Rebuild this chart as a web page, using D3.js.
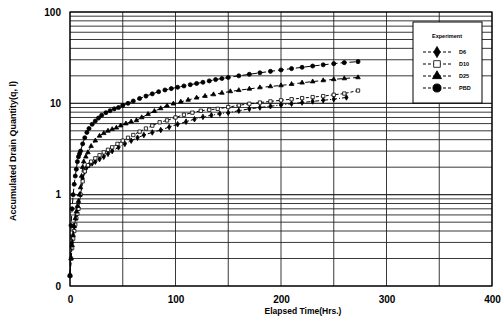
<!DOCTYPE html>
<html>
<head>
<meta charset="utf-8">
<script src="https://cdn.jsdelivr.net/npm/d3@7"></script>
<style>
  body {margin: 0; background: #fff;}
  svg {font-family: "Liberation Sans", Arial, sans-serif; font-weight: bold;}
</style>
</head>
<body>
<div id="chart"></div>
<script>
// data
const xTicks = [0, 100, 200, 300, 400];
const yTicks = [0.1, 1, 10, 100];
const yTickLabels = ['0', '1', '10', '100'];

const pbdT = [0,1,2,3,4,5,6,7,8,9,10,12,14,16,18,21,24,27,30,34,38,42,46,50,55,60,66,72,78,84,90,96,102,108,114,120,126,132,138,144,150,160,170,180,190,200,210,220,230,240,250,260,273];
const pbdQ = [0.13,0.46,0.7,1.0,1.3,1.6,1.9,2.3,2.6,2.8,3.0,3.6,4.2,4.8,5.3,5.9,6.4,6.9,7.4,7.9,8.3,8.7,9.0,9.5,10.0,10.6,11.3,12.0,12.7,13.4,14.0,14.5,15.0,15.5,16.0,16.5,17.0,17.6,18.2,18.7,19.2,20,20.8,21.6,22.4,23.2,24,24.8,25.6,26.4,27.2,27.9,28.6];

const d25T = [0,1,2,3,4,5,6,7,8,9,10,11,12,13,15,17,20,24,28,32,36,40,44,48,53,58,63,68,74,80,86,92,98,105,112,120,128,136,144,152,160,170,180,190,200,210,220,230,240,250,260,273];
const d25Q = [0.13,0.2,0.28,0.36,0.45,0.55,0.65,0.75,0.85,1.0,1.2,1.6,2.0,2.3,2.6,2.9,3.4,3.9,4.4,4.7,5.0,5.2,5.4,5.7,6.0,6.3,6.5,7.0,7.6,8.2,8.8,9.4,9.9,10.4,10.9,11.5,12.0,12.5,13.0,13.5,13.9,14.4,14.9,15.3,15.7,16.2,16.8,17.3,17.8,18.3,18.7,19.2];

const d10T = [0,1,2,3,4,5,6,7,8,10,12,14,17,20,24,28,32,36,40,45,50,55,60,66,72,78,85,92,100,108,116,124,132,140,150,160,170,180,190,200,210,220,230,240,250,260,273];
const d10Q = [0.13,0.2,0.26,0.33,0.4,0.47,0.55,0.62,0.7,1.0,1.4,1.8,2.1,2.3,2.5,2.7,2.9,3.1,3.3,3.6,3.9,4.2,4.5,4.9,5.3,5.7,6.2,6.5,7.0,7.5,7.9,8.3,8.5,8.7,9.1,9.5,9.9,10.2,10.5,10.8,11.1,11.4,11.7,12.0,12.4,12.8,13.8];

const d6T = [0,2,4,6,8,10,12,14,16,18,21,24,28,32,36,40,46,52,58,64,70,78,86,94,102,110,118,126,134,142,150,160,170,180,190,200,210,220,230,240,250,262];
const d6Q = [0.13,0.3,0.45,0.6,0.72,1.0,1.5,1.8,2.0,2.1,2.2,2.3,2.45,2.6,2.8,3.0,3.3,3.6,3.9,4.2,4.5,4.8,5.1,5.5,5.9,6.3,6.7,7.1,7.4,7.7,7.9,8.3,8.7,9.0,9.3,9.6,9.9,10.2,10.5,10.8,11.1,11.6];

const seriesNames = ['D6', 'D10', 'D25', 'PBD'];

const series = [
  {name: 'D6',  t: d6T,  q: d6Q,  symbol: d3.symbolDiamond,  size: 9,  fill: '#000', dash: '4,2,1,2'},
  {name: 'D10', t: d10T, q: d10Q, symbol: d3.symbolSquare,   size: 11, fill: '#fff', dash: '3,2'},
  {name: 'D25', t: d25T, q: d25Q, symbol: d3.symbolTriangle, size: 9,  fill: '#000', dash: '5,3'},
  {name: 'PBD', t: pbdT, q: pbdQ, symbol: d3.symbolCircle,   size: 13, fill: '#000', dash: '6,3'}
];

const margin = {top: 12, right: 10, bottom: 34, left: 70};
const W = 502, H = 320;
const width = W - margin.left - margin.right;
const height = H - margin.top - margin.bottom;

const svg = d3.select('#chart').append('svg')
  .attr('width', W)
  .attr('height', H);

const g = svg.append('g')
  .attr('transform', 'translate(' + margin.left + ',' + margin.top + ')');

const x = d3.scaleLinear().domain([0, 400]).range([0, width]);
const y = d3.scaleLog().domain([0.1, 100]).range([height, 0]);

// grid: vertical every 50 hrs, horizontal at every log minor step
const vGrid = d3.range(0, 401, 50);
const hGrid = [];
[0.1, 1, 10].forEach(d => { for (let k = 1; k <= 10; k++) hGrid.push(d * k); });

g.append('g').selectAll('line').data(vGrid).join('line')
  .attr('x1', d => x(d)).attr('x2', d => x(d))
  .attr('y1', 0).attr('y2', height)
  .attr('stroke', '#222').attr('stroke-width', 0.9);

g.append('g').selectAll('line').data(hGrid).join('line')
  .attr('x1', 0).attr('x2', width)
  .attr('y1', d => y(d)).attr('y2', d => y(d))
  .attr('stroke', '#222').attr('stroke-width', 0.9);

g.append('rect')
  .attr('width', width).attr('height', height)
  .attr('fill', 'none').attr('stroke', '#000').attr('stroke-width', 1.2);

// axes
const xAxis = d3.axisBottom(x).tickValues(xTicks).tickSize(0).tickPadding(10);
const yAxis = d3.axisLeft(y).tickValues(yTicks).tickSize(0).tickPadding(9)
  .tickFormat((d, i) => yTickLabels[i]);

g.append('g')
  .attr('transform', 'translate(0,' + height + ')')
  .call(xAxis)
  .call(s => s.select('.domain').remove())
  .selectAll('text').attr('font-size', 10).attr('font-weight', 'bold').attr('fill', '#000')
  .attr('font-family', '"Liberation Sans", Arial, sans-serif');

g.append('g')
  .call(yAxis)
  .call(s => s.select('.domain').remove())
  .selectAll('text').attr('font-size', 10).attr('font-weight', 'bold').attr('fill', '#000')
  .attr('font-family', '"Liberation Sans", Arial, sans-serif');

svg.append('text')
  .attr('x', 303)
  .attr('y', 314)
  .attr('text-anchor', 'middle')
  .attr('font-size', 8.5)
  .text('Elapsed Time(Hrs.)');

svg.append('text')
  .attr('transform', 'translate(16,' + 151 + ') rotate(-90)')
  .attr('text-anchor', 'middle')
  .attr('font-size', 9)
  .text('Accumulated Drain Quantity(q, l)');

// series
const line = d3.line().x(d => x(d[0])).y(d => y(d[1]));

series.forEach(s => {
  const pts = s.t.map((t, i) => [t, s.q[i]]);
  g.append('path')
    .datum(pts)
    .attr('fill', 'none')
    .attr('stroke', '#000')
    .attr('stroke-width', 1)
    .attr('stroke-dasharray', s.dash)
    .attr('d', line);
  g.append('g').selectAll('path').data(pts).join('path')
    .attr('transform', d => 'translate(' + x(d[0]) + ',' + y(d[1]) + ')')
    .attr('d', d3.symbol().type(s.symbol).size(s.size))
    .attr('fill', s.fill)
    .attr('stroke', '#000')
    .attr('stroke-width', 0.8);
});

// legend
const lg = svg.append('g').attr('transform', 'translate(413,22)');
lg.append('rect')
  .attr('width', 69).attr('height', 81)
  .attr('fill', '#fff').attr('stroke', '#000').attr('stroke-width', 1);
lg.append('text')
  .attr('x', 34).attr('y', 16)
  .attr('text-anchor', 'middle')
  .attr('font-size', 5.5)
  .text('Experiment');

series.forEach((s, i) => {
  const yy = 30 + i * 12;
  lg.append('line')
    .attr('x1', 10).attr('x2', 38)
    .attr('y1', yy).attr('y2', yy)
    .attr('stroke', '#000').attr('stroke-width', 1)
    .attr('stroke-dasharray', '3,2');
  lg.append('path')
    .attr('transform', 'translate(24,' + yy + ')')
    .attr('d', d3.symbol().type(s.symbol).size(s.size * 4))
    .attr('fill', s.fill)
    .attr('stroke', '#000')
    .attr('stroke-width', 0.8);
  lg.append('text')
    .attr('x', 46).attr('y', yy + 2)
    .attr('font-size', 5.5)
    .text(seriesNames[i]);
});
</script>
</body>
</html>
